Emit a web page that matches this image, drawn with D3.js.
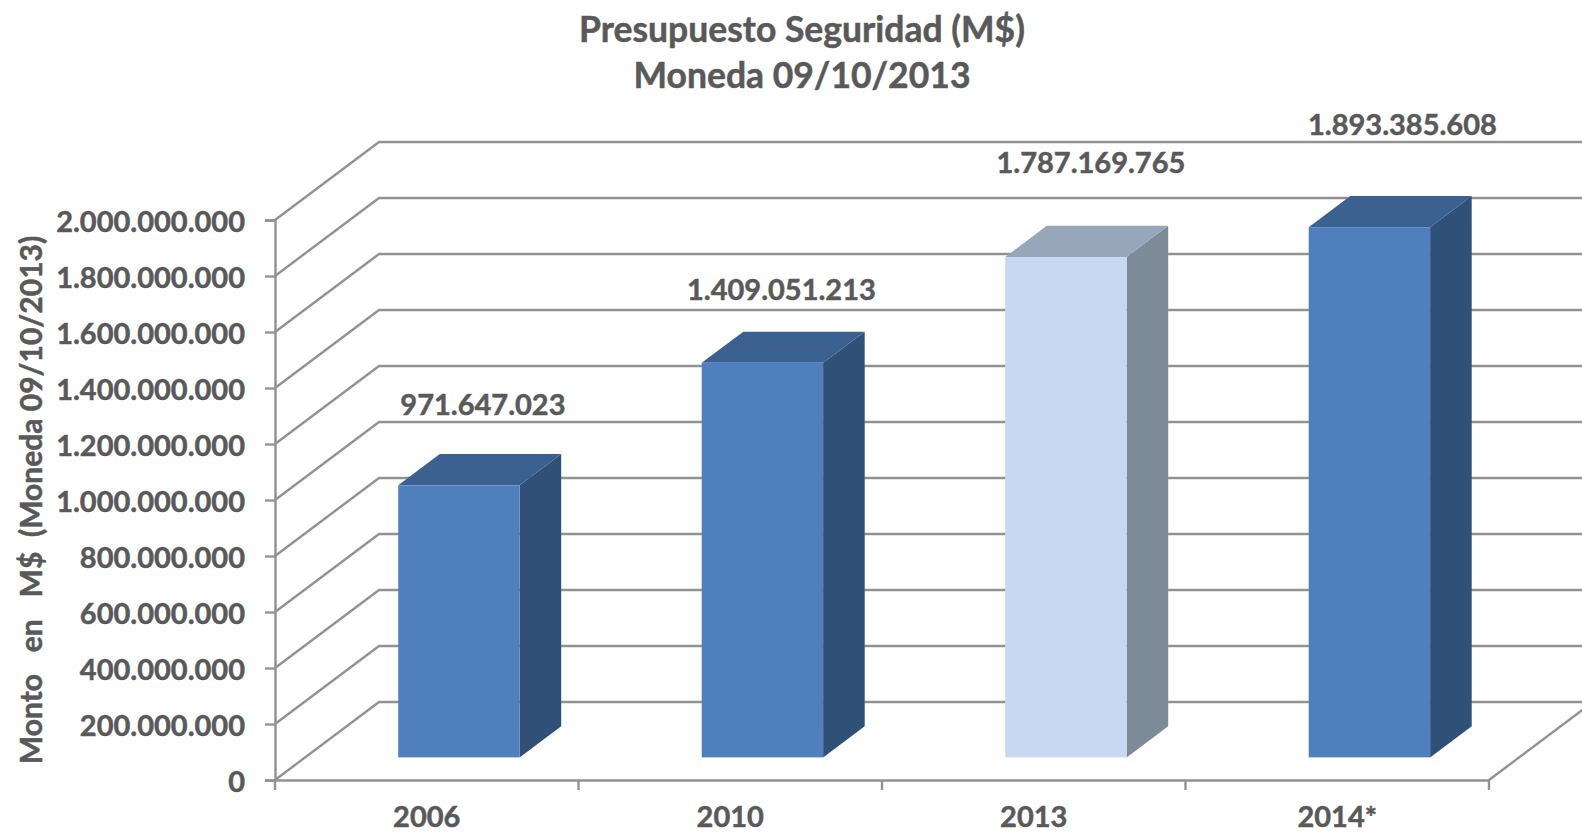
<!DOCTYPE html>
<html>
<head>
<meta charset="utf-8">
<script src="https://cdn.jsdelivr.net/npm/d3@7"></script>
<style>
  html, body { margin: 0; padding: 0; background: #fff; overflow: hidden; }
  text { font-family: Lato, "Open Sans", sans-serif; font-weight: 700; fill: #595959; stroke: #595959; stroke-width: 0.5px; }
</style>
</head>
<body>
<div id="chart"></div>
<script>
// values
const years = ["2006", "2010", "2013", "2014*"];
const montos = [971647023, 1409051213, 1787169765, 1893385608];
const yTicks = [0, 200000000, 400000000, 600000000, 800000000, 1000000000, 1200000000, 1400000000, 1600000000, 1800000000, 2000000000];
const titleLines = ["Presupuesto Seguridad (M$)", "Moneda 09/10/2013"];
const yTitle = "Monto   en   M$  (Moneda 09/10/2013)";

// hand placed data labels, the originals were dragged around in the chart
const labelShiftX = [24, 19, 25, 33];
const labelShiftY = [-80, -73, -94, -102];

let width = 1582, height = 833;
let depthX = 104, depthY = 78;      // how far the back wall sits from the front plane
let barFront = 0.29, barBack = 0.69; // bar position inside the depth
let barNudge = 2;
let gridColor = "#929292";

let svg = d3.select("#chart").append("svg")
    .attr("width", width)
    .attr("height", height);

let x = d3.scaleBand().domain(years).range([275, 1489]);
let y = d3.scaleLinear().domain([0, 2000000000]).range([780, 220]);

const es = d3.formatLocale({ decimal: ",", thousands: ".", grouping: [3], currency: ["$", ""] });
const fmt = es.format(",d");

// oblique projection: z = 0 is the front plane, z = 1 the back wall
const px = (xv, z) => xv + z * depthX;
const py = (v, z) => y(v) - z * depthY;
const line = d3.line();

// title
svg.append("g").selectAll("text")
    .data(titleLines)
    .enter()
    .append("text")
    .attr("x", 802)
    .attr("y", (d, i) => 42 + i * 46)
    .attr("text-anchor", "middle")
    .attr("font-size", 35.5)
    .text(d => d);

// gridlines, left wall + back wall
let grid = svg.append("g")
    .attr("fill", "none")
    .attr("stroke", gridColor)
    .attr("stroke-width", 2.4);

grid.selectAll("path")
    .data(yTicks)
    .enter()
    .append("path")
    .attr("d", d => line([[275, y(d)], [px(275, 1), py(d, 1)], [px(1489, 1), py(d, 1)]]));

// floor edge on the right
grid.append("path")
    .attr("d", line([[1489, y(0)], [px(1489, 1), py(0, 1)]]));

// y axis
let yAxis = svg.append("g")
    .attr("transform", "translate(275,0)")
    .call(d3.axisLeft(y).tickValues(yTicks).tickSize(10).tickPadding(20).tickFormat(fmt));
yAxis.selectAll("line").attr("stroke", gridColor).attr("stroke-width", 2.4);
yAxis.select(".domain").attr("stroke", gridColor).attr("stroke-width", 2.4);
yAxis.selectAll("text").attr("font-size", 29).attr("dy", "0.39em");
yAxis.attr("font-family", null);

// x axis, labels in the band centres and ticks on the band edges
let xAxis = svg.append("g")
    .attr("transform", "translate(0," + y(0) + ")")
    .call(d3.axisBottom(x).tickSize(0).tickPadding(26));
xAxis.select(".domain").attr("stroke", gridColor).attr("stroke-width", 2.4);
xAxis.selectAll("text").attr("font-size", 29);
xAxis.attr("font-family", null);

let edges = years.map(d => x(d)).concat([x.range()[1]]);
xAxis.selectAll("line.edge")
    .data(edges)
    .enter()
    .append("line")
    .attr("class", "edge")
    .attr("x1", d => d)
    .attr("x2", d => d)
    .attr("y1", 0)
    .attr("y2", 10)
    .attr("stroke", gridColor)
    .attr("stroke-width", 2.4);

// y title
svg.append("text")
    .attr("transform", "translate(42,500) rotate(-90)")
    .attr("text-anchor", "middle")
    .style("white-space", "pre")
    .attr("font-size", 30)
    .text(yTitle);

// bars
let barWidth = x.bandwidth() * 0.4;
const barLeft = d => px(x(d) + (x.bandwidth() - barWidth) / 2, barFront) + barNudge;
const colors = (i) => i == 2
    ? { front: "#c6d9f1", top: "#97a6b8", side: "#7d8b99" }
    : { front: "#4f7fbc", top: "#3a6190", side: "#2f5177" };

let bars = svg.append("g").selectAll("g")
    .data(years)
    .enter()
    .append("g");

bars.append("path")  // side
    .attr("fill", (d, i) => colors(i).side)
    .attr("d", (d, i) => {
        let r = barLeft(d) + barWidth, dz = barBack - barFront;
        return line([[r, py(0, barFront)], [r + dz * depthX, py(0, barBack)],
            [r + dz * depthX, py(montos[i], barBack)], [r, py(montos[i], barFront)]]) + "Z";
    });

bars.append("path")  // top
    .attr("fill", (d, i) => colors(i).top)
    .attr("d", (d, i) => {
        let l = barLeft(d), dz = barBack - barFront;
        return line([[l, py(montos[i], barFront)], [l + dz * depthX, py(montos[i], barBack)],
            [l + barWidth + dz * depthX, py(montos[i], barBack)], [l + barWidth, py(montos[i], barFront)]]) + "Z";
    });

bars.append("rect")  // front
    .attr("fill", (d, i) => colors(i).front)
    .attr("x", d => barLeft(d))
    .attr("y", (d, i) => py(montos[i], barFront))
    .attr("width", barWidth)
    .attr("height", (d, i) => py(0, barFront) - py(montos[i], barFront));

// data labels
svg.append("g").selectAll("text")
    .data(years)
    .enter()
    .append("text")
    .attr("x", (d, i) => barLeft(d) + barWidth / 2 + labelShiftX[i])
    .attr("y", (d, i) => py(montos[i], barFront) + labelShiftY[i] + 10)
    .attr("text-anchor", "middle")
    .attr("font-size", 29)
    .text((d, i) => fmt(montos[i]));
</script>
</body>
</html>
